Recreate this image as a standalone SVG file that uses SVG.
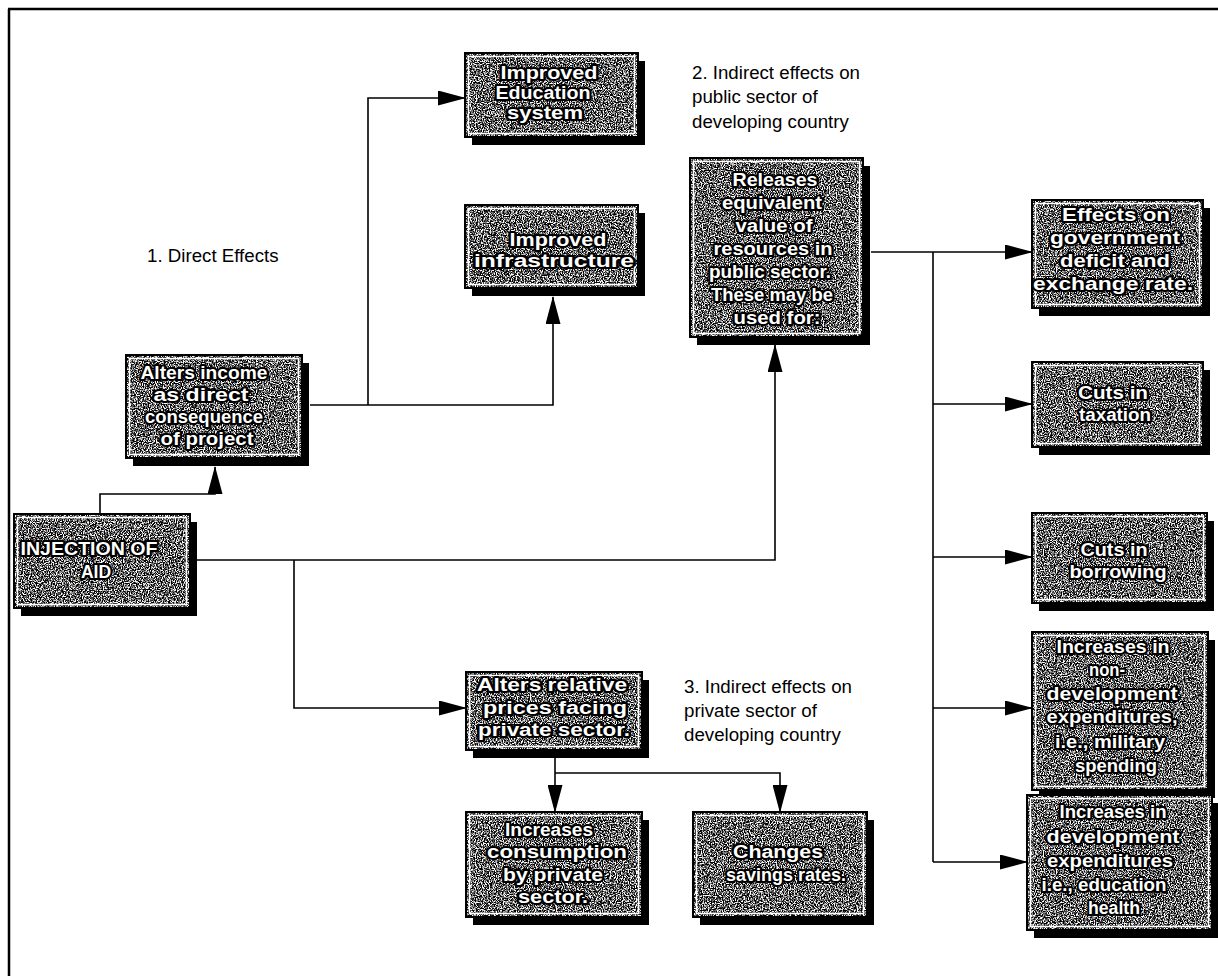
<svg xmlns="http://www.w3.org/2000/svg" width="1218" height="976" viewBox="0 0 1218 976">
<defs>
<filter id="noise" x="0" y="0" width="1" height="1" color-interpolation-filters="sRGB">
<feTurbulence type="fractalNoise" baseFrequency="0.85" numOctaves="2" seed="3" result="t"/>
<feColorMatrix in="t" type="matrix" values="1 0 0 0 0  1 0 0 0 0  1 0 0 0 0  0 0 0 0 1" result="g"/>
<feComponentTransfer in="g" result="c">
<feFuncR type="linear" slope="4" intercept="-1.62"/>
<feFuncG type="linear" slope="4" intercept="-1.62"/>
<feFuncB type="linear" slope="4" intercept="-1.62"/>
</feComponentTransfer>
<feComposite in="c" in2="SourceGraphic" operator="in"/>
</filter>
<marker id="arr" markerUnits="userSpaceOnUse" markerWidth="28" markerHeight="15" refX="27" refY="7.5" orient="auto">
<path d="M0,0 L28,7.5 L0,15 z" fill="#000"/>
</marker>
</defs>
<style>
.sh{fill:#000}
.bx{fill:#fff}
.fr{fill:none;stroke:#000;stroke-width:2}
.in{fill:none;stroke:#fff;stroke-width:1.5}
.t{font-family:"Liberation Sans",Arial,sans-serif;font-weight:bold;font-size:17.5px;fill:#fff;stroke:#000;stroke-width:4;paint-order:stroke;stroke-linejoin:round;text-anchor:middle}
.lb{font-family:"Liberation Sans",Arial,sans-serif;font-size:18.7px;fill:#000}
.c{fill:none;stroke:#000;stroke-width:1.6}
</style>
<rect width="1218" height="976" fill="#fff"/>
<g id="frame">
<path d="M8,9 H1218 M9,9 V976" fill="none" stroke="#000" stroke-width="2.5"/>
</g>
<g id="connectors">
<path class="c" d="M100,514 V494 H215 V467" marker-end="url(#arr)"/>
<path class="c" d="M310,405 H553 V297" marker-end="url(#arr)"/>
<path class="c" d="M368,405 V98 H465" marker-end="url(#arr)"/>
<path class="c" d="M197,560 H775 V345" marker-end="url(#arr)"/>
<path class="c" d="M294,560 V708 H466" marker-end="url(#arr)"/>
<path class="c" d="M555,758 V812" marker-end="url(#arr)"/>
<path class="c" d="M555,773 H780 V812" marker-end="url(#arr)"/>
<path class="c" d="M871,252 H1032" marker-end="url(#arr)"/>
<path class="c" d="M933,252 V862"/>
<path class="c" d="M933,404 H1032" marker-end="url(#arr)"/>
<path class="c" d="M933,557 H1032" marker-end="url(#arr)"/>
<path class="c" d="M933,708 H1032" marker-end="url(#arr)"/>
<path class="c" d="M933,862 H1027" marker-end="url(#arr)"/>
</g>
<g id="labels">
<text class="lb" x="147" y="262">1. Direct Effects</text>
<text class="lb" x="692" y="79">2. Indirect effects on</text>
<text class="lb" x="692" y="103">public sector of</text>
<text class="lb" x="692" y="128">developing country</text>
<text class="lb" x="684" y="693">3. Indirect effects on</text>
<text class="lb" x="684" y="717">private sector of</text>
<text class="lb" x="684" y="741">developing country</text>
</g>
<g id="n-injection">
<rect class="sh" x="21" y="522" width="176" height="94"/>
<rect class="bx" x="14" y="514" width="176" height="94" filter="url(#noise)"/>
<rect class="fr" x="14" y="514" width="176" height="94"/>
<rect class="in" x="17.5" y="517.5" width="169" height="87"/>
<text class="t" x="89" y="555" textLength="137" lengthAdjust="spacingAndGlyphs">INJECTION OF</text>
<text class="t" x="96" y="578">AID</text>
</g>
<g id="n-income">
<rect class="sh" x="133" y="363" width="176" height="103"/>
<rect class="bx" x="126" y="355" width="176" height="103" filter="url(#noise)"/>
<rect class="fr" x="126" y="355" width="176" height="103"/>
<rect class="in" x="129.5" y="358.5" width="169" height="96"/>
<text class="t" x="204" y="379" textLength="127" lengthAdjust="spacingAndGlyphs">Alters income</text>
<text class="t" x="201" y="401" textLength="95" lengthAdjust="spacingAndGlyphs">as direct</text>
<text class="t" x="204" y="423" textLength="118" lengthAdjust="spacingAndGlyphs">consequence</text>
<text class="t" x="207" y="445" textLength="93" lengthAdjust="spacingAndGlyphs">of project</text>
</g>
<g id="n-education">
<rect class="sh" x="472" y="61" width="173" height="84"/>
<rect class="bx" x="465" y="53" width="173" height="84" filter="url(#noise)"/>
<rect class="fr" x="465" y="53" width="173" height="84"/>
<rect class="in" x="468.5" y="56.5" width="166" height="77"/>
<text class="t" x="549" y="79" textLength="97" lengthAdjust="spacingAndGlyphs">Improved</text>
<text class="t" x="543" y="99" textLength="95" lengthAdjust="spacingAndGlyphs">Education</text>
<text class="t" x="545" y="119" textLength="76" lengthAdjust="spacingAndGlyphs">system</text>
</g>
<g id="n-infra">
<rect class="sh" x="472" y="213" width="173" height="83"/>
<rect class="bx" x="465" y="205" width="173" height="83" filter="url(#noise)"/>
<rect class="fr" x="465" y="205" width="173" height="83"/>
<rect class="in" x="468.5" y="208.5" width="166" height="76"/>
<text class="t" x="558" y="246" textLength="97" lengthAdjust="spacingAndGlyphs">Improved</text>
<text class="t" x="554" y="267" textLength="160" lengthAdjust="spacingAndGlyphs">infrastructure</text>
</g>
<g id="n-releases">
<rect class="sh" x="697" y="166" width="173" height="179"/>
<rect class="bx" x="690" y="158" width="173" height="179" filter="url(#noise)"/>
<rect class="fr" x="690" y="158" width="173" height="179"/>
<rect class="in" x="693.5" y="161.5" width="166" height="172"/>
<text class="t" x="775" y="186" textLength="85" lengthAdjust="spacingAndGlyphs">Releases</text>
<text class="t" x="772" y="209" textLength="100" lengthAdjust="spacingAndGlyphs">equivalent</text>
<text class="t" x="774" y="232" textLength="77" lengthAdjust="spacingAndGlyphs">value of</text>
<text class="t" x="773" y="255" textLength="119" lengthAdjust="spacingAndGlyphs">resources in</text>
<text class="t" x="770" y="278" textLength="122" lengthAdjust="spacingAndGlyphs">public sector.</text>
<text class="t" x="772" y="301" textLength="122" lengthAdjust="spacingAndGlyphs">These may be</text>
<text class="t" x="777" y="324" textLength="87" lengthAdjust="spacingAndGlyphs">used for:</text>
</g>
<g id="n-effects">
<rect class="sh" x="1039" y="208" width="171" height="108"/>
<rect class="bx" x="1032" y="200" width="171" height="108" filter="url(#noise)"/>
<rect class="fr" x="1032" y="200" width="171" height="108"/>
<rect class="in" x="1035.5" y="203.5" width="164" height="101"/>
<text class="t" x="1116" y="221" textLength="108" lengthAdjust="spacingAndGlyphs">Effects on</text>
<text class="t" x="1115" y="244" textLength="130" lengthAdjust="spacingAndGlyphs">government</text>
<text class="t" x="1115" y="267" textLength="110" lengthAdjust="spacingAndGlyphs">deficit and</text>
<text class="t" x="1113" y="290" textLength="160" lengthAdjust="spacingAndGlyphs">exchange rate.</text>
</g>
<g id="n-taxation">
<rect class="sh" x="1039" y="370" width="171" height="85"/>
<rect class="bx" x="1032" y="362" width="171" height="85" filter="url(#noise)"/>
<rect class="fr" x="1032" y="362" width="171" height="85"/>
<rect class="in" x="1035.5" y="365.5" width="164" height="78"/>
<text class="t" x="1113" y="399" textLength="70" lengthAdjust="spacingAndGlyphs">Cuts in</text>
<text class="t" x="1115" y="421" textLength="72" lengthAdjust="spacingAndGlyphs">taxation</text>
</g>
<g id="n-borrowing">
<rect class="sh" x="1039" y="521" width="175" height="90"/>
<rect class="bx" x="1032" y="513" width="175" height="90" filter="url(#noise)"/>
<rect class="fr" x="1032" y="513" width="175" height="90"/>
<rect class="in" x="1035.5" y="516.5" width="168" height="83"/>
<text class="t" x="1114" y="556" textLength="67" lengthAdjust="spacingAndGlyphs">Cuts in</text>
<text class="t" x="1118" y="578" textLength="97" lengthAdjust="spacingAndGlyphs">borrowing</text>
</g>
<g id="n-nondev">
<rect class="sh" x="1039" y="640" width="176" height="158"/>
<rect class="bx" x="1032" y="632" width="176" height="158" filter="url(#noise)"/>
<rect class="fr" x="1032" y="632" width="176" height="158"/>
<rect class="in" x="1035.5" y="635.5" width="169" height="151"/>
<text class="t" x="1113" y="653" textLength="113" lengthAdjust="spacingAndGlyphs">Increases in</text>
<text class="t" x="1107" y="676" textLength="36" lengthAdjust="spacingAndGlyphs">non-</text>
<text class="t" x="1112" y="700" textLength="131" lengthAdjust="spacingAndGlyphs">development</text>
<text class="t" x="1112" y="723" textLength="131" lengthAdjust="spacingAndGlyphs">expenditures,</text>
<text class="t" x="1110" y="748" textLength="110" lengthAdjust="spacingAndGlyphs">i.e., military</text>
<text class="t" x="1116" y="772" textLength="82" lengthAdjust="spacingAndGlyphs">spending</text>
</g>
<g id="n-dev">
<rect class="sh" x="1034" y="803" width="185" height="135"/>
<rect class="bx" x="1027" y="795" width="185" height="135" filter="url(#noise)"/>
<rect class="fr" x="1027" y="795" width="185" height="135"/>
<rect class="in" x="1030.5" y="798.5" width="178" height="128"/>
<text class="t" x="1113" y="818" textLength="107" lengthAdjust="spacingAndGlyphs">Increases in</text>
<text class="t" x="1113" y="843" textLength="133" lengthAdjust="spacingAndGlyphs">development</text>
<text class="t" x="1110" y="867" textLength="126" lengthAdjust="spacingAndGlyphs">expenditures</text>
<text class="t" x="1104" y="891" textLength="125" lengthAdjust="spacingAndGlyphs">i.e., education</text>
<text class="t" x="1114" y="914" textLength="52" lengthAdjust="spacingAndGlyphs">health</text>
</g>
<g id="n-prices">
<rect class="sh" x="473" y="680" width="176" height="78"/>
<rect class="bx" x="466" y="672" width="176" height="78" filter="url(#noise)"/>
<rect class="fr" x="466" y="672" width="176" height="78"/>
<rect class="in" x="469.5" y="675.5" width="169" height="71"/>
<text class="t" x="552" y="691" textLength="150" lengthAdjust="spacingAndGlyphs">Alters relative</text>
<text class="t" x="555" y="714" textLength="144" lengthAdjust="spacingAndGlyphs">prices facing</text>
<text class="t" x="554" y="736" textLength="152" lengthAdjust="spacingAndGlyphs">private sector.</text>
</g>
<g id="n-consumption">
<rect class="sh" x="473" y="820" width="176" height="105"/>
<rect class="bx" x="466" y="812" width="176" height="105" filter="url(#noise)"/>
<rect class="fr" x="466" y="812" width="176" height="105"/>
<rect class="in" x="469.5" y="815.5" width="169" height="98"/>
<text class="t" x="549" y="836" textLength="88" lengthAdjust="spacingAndGlyphs">Increases</text>
<text class="t" x="557" y="858" textLength="140" lengthAdjust="spacingAndGlyphs">consumption</text>
<text class="t" x="553" y="881" textLength="100" lengthAdjust="spacingAndGlyphs">by private</text>
<text class="t" x="553" y="903" textLength="70" lengthAdjust="spacingAndGlyphs">sector.</text>
</g>
<g id="n-savings">
<rect class="sh" x="700" y="820" width="174" height="105"/>
<rect class="bx" x="693" y="812" width="174" height="105" filter="url(#noise)"/>
<rect class="fr" x="693" y="812" width="174" height="105"/>
<rect class="in" x="696.5" y="815.5" width="167" height="98"/>
<text class="t" x="778" y="858" textLength="90" lengthAdjust="spacingAndGlyphs">Changes</text>
<text class="t" x="786" y="881" textLength="120" lengthAdjust="spacingAndGlyphs">savings rates.</text>
</g>
</svg>
